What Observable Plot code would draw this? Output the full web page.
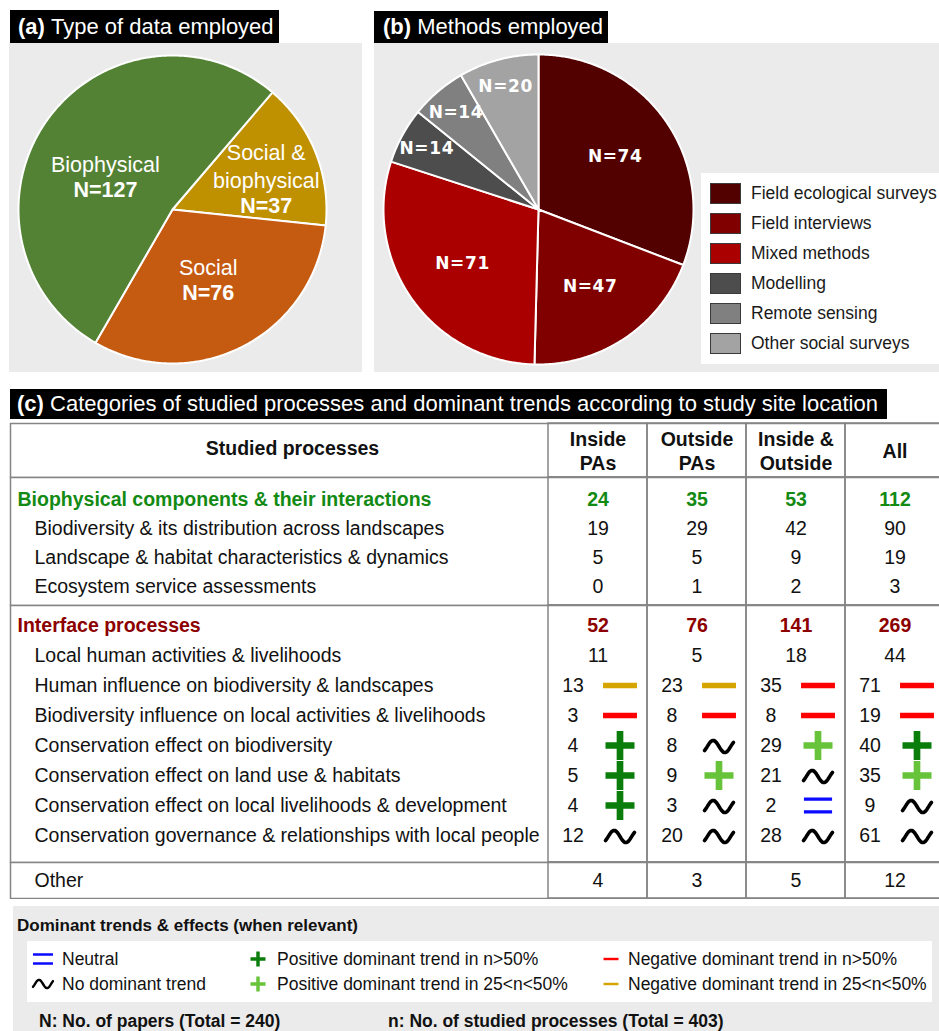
<!DOCTYPE html>
<html>
<head>
<meta charset="utf-8">
<script src="https://cdn.jsdelivr.net/npm/d3@7"></script>
<script src="https://cdn.jsdelivr.net/npm/@observablehq/plot@0.6"></script>
<style>
  html, body { margin: 0; padding: 0; background: #fff; }
  #root { position: relative; width: 939px; height: 1031px; overflow: hidden; font-family: "Liberation Sans", Arial, Helvetica, sans-serif; }
  .title { position: absolute; background: #000; color: #fff; font-size: 22px; white-space: nowrap; box-sizing: border-box; display: flex; align-items: center; }
  .box { position: absolute; }
  .lt { position: absolute; white-space: nowrap; transform: translateY(-50%); line-height: 1; }
</style>
</head>
<body>
<div id="root"></div>
<script>
// ---------------- DATA ----------------
const dataTypes = ["Social & biophysical", "Social", "Biophysical"];
const dataTypeLabels = ["Social &\nbiophysical", "Social", "Biophysical"];
const dataTypeCounts = [37, 76, 127];

const methods = ["Field ecological surveys", "Field interviews", "Mixed methods", "Modelling", "Remote sensing", "Other social surveys"];
const methodCounts = [74, 47, 71, 14, 14, 20];

const columns = ["Inside PAs", "Outside PAs", "Inside & Outside", "All"];
const columnLabels = ["Inside\nPAs", "Outside\nPAs", "Inside &\nOutside", "All"];
const headerLabel = "Studied processes";

const groupNames = ["Biophysical components & their interactions", "Interface processes"];
const groupTotals = [[24, 35, 53, 112], [52, 76, 141, 269]];

const bioProcesses = [
  "Biodiversity & its distribution across landscapes",
  "Landscape & habitat characteristics & dynamics",
  "Ecosystem service assessments"
];
const bioCounts = [[19, 29, 42, 90], [5, 5, 9, 19], [0, 1, 2, 3]];

const interfaceProcesses = [
  "Local human activities & livelihoods",
  "Human influence on biodiversity & landscapes",
  "Biodiversity influence on local activities & livelihoods",
  "Conservation effect on biodiversity",
  "Conservation effect on land use & habitats",
  "Conservation effect on local livelihoods & development",
  "Conservation governance & relationships with local people"
];
const interfaceCounts = [[11, 5, 18, 44], [13, 23, 35, 71], [3, 8, 8, 19], [4, 8, 29, 40], [5, 9, 21, 35], [4, 3, 2, 9], [12, 20, 28, 61]];
const interfaceTrends = [
  [null, null, null, null],
  ["neg25", "neg25", "neg50", "neg50"],
  ["neg50", "neg50", "neg50", "neg50"],
  ["pos50", "none", "pos25", "pos50"],
  ["pos50", "pos25", "none", "pos25"],
  ["pos50", "none", "neutral", "none"],
  ["none", "none", "none", "none"]
];
const otherLabel = "Other";
const otherCounts = [4, 3, 5, 12];

const trendKeys = ["neutral", "none", "pos50", "pos25", "neg50", "neg25"];
const trendLabels = ["Neutral", "No dominant trend", "Positive dominant trend in n>50%", "Positive dominant trend in 25<n<50%", "Negative dominant trend in n>50%", "Negative dominant trend in 25<n<50%"];
const totalPapers = 240, totalProcesses = 403;

// ---------------- STYLES ----------------
const FONT = '"Liberation Sans", Arial, Helvetica, sans-serif';
const GRAY = "#858585";
const PANEL_BG = "#ebebeb";
const dataTypeColors = ["#bf9000", "#c55a11", "#548235"];
const methodColors = ["#520000", "#800000", "#aa0000", "#4d4d4d", "#808080", "#a3a3a3"];
const groupColors = ["#138a13", "#8c0000"];
const trendStyle = {
  neutral: {sym: "equal", color: "#0a0aff", filled: true},
  none: {sym: "tilde", color: "#000000", filled: false},
  pos50: {sym: "plus", color: "#0a7d0a", filled: true},
  pos25: {sym: "plus", color: "#66c33a", filled: true},
  neg50: {sym: "minus", color: "#ff0000", filled: true},
  neg25: {sym: "minus", color: "#d6a400", filled: true}
};

// custom symbols (d3-symbol types)
const rOf = s => Math.sqrt(s / Math.PI);
const SYM = {
  plus: {draw(c, s) { const r = rOf(s), t = r * 0.23;
    c.moveTo(-t, -r); c.lineTo(t, -r); c.lineTo(t, -t); c.lineTo(r, -t); c.lineTo(r, t); c.lineTo(t, t);
    c.lineTo(t, r); c.lineTo(-t, r); c.lineTo(-t, t); c.lineTo(-r, t); c.lineTo(-r, -t); c.lineTo(-t, -t); c.closePath(); }},
  minus: {draw(c, s) { const r = rOf(s), w = r * 1.17, t = r * 0.19; c.rect(-w, -t, 2 * w, 2 * t); }},
  equal: {draw(c, s) { const r = rOf(s), w = r * 0.97, t = r * 0.12, o = r * 0.44;
    c.rect(-w, -o - t, 2 * w, 2 * t); c.rect(-w, o - t, 2 * w, 2 * t); }},
  tilde: {draw(c, s) { const r = rOf(s), a = r * 0.42, t0 = -0.75, t1 = 2 * Math.PI + 0.75, n = 32;
    for (let k = 0; k <= n; k++) { const th = t0 + (t1 - t0) * k / n; const x = -r + 2 * r * k / n, y = -a * Math.sin(th);
      if (k) c.lineTo(x, y); else c.moveTo(x, y); } }}
};

const root = document.getElementById("root");
function place(el, left, top) { el.style.position = "absolute"; el.style.left = left + "px"; el.style.top = top + "px"; root.appendChild(el); return el; }

function title(boldPart, rest, left, top, w, h, pad) {
  const d = document.createElement("div"); d.className = "title";
  d.style.width = w + "px"; d.style.height = h + "px"; d.style.paddingLeft = pad + "px";
  const b = document.createElement("b"); b.textContent = boldPart; d.appendChild(b);
  d.appendChild(document.createTextNode("\u00a0" + rest));
  place(d, left, top);
}

// ---------------- PIES ----------------
function pieSlices(names, counts, startDeg) {
  const s0 = startDeg * Math.PI / 180;
  const arcs = d3.pie().sort(null).startAngle(s0).endAngle(s0 + 2 * Math.PI)(counts);
  const pts = [];
  arcs.forEach((a, i) => {
    const n = Math.max(4, Math.ceil((a.endAngle - a.startAngle) / (Math.PI / 360)));
    pts.push({name: names[i], x: 0, y: 0});
    for (let k = 0; k <= n; k++) {
      const t = a.startAngle + (a.endAngle - a.startAngle) * k / n;
      pts.push({name: names[i], x: Math.sin(t), y: Math.cos(t)});
    }
    pts.push({name: names[i], x: 0, y: 0});
  });
  return {arcs, pts};
}

// Panel (a)
title("(a)", "Type of data employed", 10, 10, 269, 34, 8);
const A = pieSlices(dataTypes, dataTypeCounts, 40.5);
const RA = 154, CXA = 163, CYA = 166, LHA = 27.5;
const labelPlaceA = {"Social & biophysical": [0.64, 3.75], "Social": [0.51, 0], "Biophysical": [0.485, -9.25]};
const labelsA = A.arcs.map((a, i) => {
  const [f, shift] = labelPlaceA[dataTypes[i]];
  const t = (a.startAngle + a.endAngle) / 2 + shift * Math.PI / 180;
  const k = dataTypeLabels[i].split("\n").length;
  const x = f * Math.sin(t), y = f * Math.cos(t);
  return {x, nameY: y + 0.5 * LHA / RA, nY: y - (k / 2) * LHA / RA, name: dataTypeLabels[i], n: "N=" + dataTypeCounts[i]};
});
const pieA = Plot.plot({
  width: 353, height: 329, margin: 0,
  style: {background: PANEL_BG, fontFamily: FONT},
  x: {domain: [-1, 1], range: [CXA - RA, CXA + RA], axis: null},
  y: {domain: [-1, 1], range: [CYA + RA, CYA - RA], axis: null},
  color: {domain: dataTypes, range: dataTypeColors},
  marks: [
    Plot.line(A.pts, {x: "x", y: "y", z: "name", fill: "name", stroke: "white", strokeWidth: 2, strokeLinejoin: "round"}),
    Plot.text(labelsA, {x: "x", y: "nameY", text: "name", fill: "white", fontSize: 21.5, fontFamily: FONT, lineHeight: LHA / 21.5, lineAnchor: "middle"}),
    Plot.text(labelsA, {x: "x", y: "nY", text: "n", fill: "white", fontSize: 21.5, fontFamily: FONT, fontWeight: "bold", lineAnchor: "middle"})
  ]
});
place(pieA, 9, 43);

// Panel (b)
title("(b)", "Methods employed", 374, 11, 234, 32, 9);
const B = pieSlices(methods, methodCounts, 0);
const RB = 155, CXB = 164, CYB = 166;
const labelsB = B.arcs.map((a, i) => {
  const f = methodCounts[i] < 30 ? 0.82 : 0.6;
  const t = (a.startAngle + a.endAngle) / 2;
  return {x: f * Math.sin(t), y: f * Math.cos(t), n: "N=" + methodCounts[i]};
});
const pieB = Plot.plot({
  width: 565, height: 329, margin: 0,
  style: {background: PANEL_BG, fontFamily: FONT},
  x: {domain: [-1, 1], range: [CXB - RB, CXB + RB], axis: null},
  y: {domain: [-1, 1], range: [CYB + RB, CYB - RB], axis: null},
  color: {domain: methods, range: methodColors},
  marks: [
    Plot.line(B.pts, {x: "x", y: "y", z: "name", fill: "name", stroke: "white", strokeWidth: 2, strokeLinejoin: "round"}),
    Plot.text(labelsB, {x: "x", y: "y", text: "n", fill: "white", fontSize: 17, fontFamily: "DejaVu Sans", fontWeight: "bold", lineAnchor: "middle"})
  ]
});
pieB.style.letterSpacing = "0.6px";
place(pieB, 374, 43);

// legend (b)
{
  const box = document.createElement("div"); box.className = "box";
  box.style.width = "238px"; box.style.height = "191px"; box.style.background = "#fff";
  place(box, 701, 173);
  methods.forEach((m, i) => {
    const sw = document.createElement("div");
    Object.assign(sw.style, {position: "absolute", left: "9px", top: (10 + 30 * i) + "px", width: "31px", height: "21px", background: methodColors[i], border: "1px solid #3a3a3a", boxSizing: "border-box"});
    box.appendChild(sw);
    const t = document.createElement("div"); t.className = "lt"; t.textContent = m;
    Object.assign(t.style, {left: "50px", top: (20.5 + 30 * i) + "px", fontSize: "17.5px", color: "#1a1a1a"});
    box.appendChild(t);
  });
}

// ---------------- TABLE (c) ----------------
title("(c)", "Categories of studied processes and dominant trends according to study site location", 10, 389, 877, 30, 7);

const TXT = {fontFamily: FONT, fontSize: 19.5};
const XSCALE = {type: "band", domain: columns, range: [548, 944], padding: 0, axis: null};

function cellsOf(rows) {
  return rows.flatMap(r => columns.map((c, j) => ({key: r.key, col: c, value: r.values[j], trend: r.trends ? r.trends[j] : null, kind: r.kind})));
}

function baseMarks() {
  return [
    Plot.frame({stroke: GRAY, strokeWidth: 1.5, insetRight: -6}),
    Plot.cell(columns, {x: d => d, fill: "none", stroke: GRAY, strokeWidth: 1.5})
  ];
}

function tableSection({rows, top, bottom, rowTop, rowBottom, groupColor}) {
  const svgTop = top - 1, h = bottom - top + 2;
  const cells = cellsOf(rows);
  const groupCells = cells.filter(d => d.kind === "group");
  const plain = cells.filter(d => d.kind !== "group" && !d.trend);
  const trended = cells.filter(d => d.trend);
  const marks = [
    ...baseMarks(),
    Plot.text(rows.filter(r => r.kind === "group"), {y: "key", text: "label", frameAnchor: "left", textAnchor: "start", dx: 7, fontWeight: "bold", fill: groupColor || "#000", ...TXT}),
    Plot.text(rows.filter(r => r.kind === "item"), {y: "key", text: "label", frameAnchor: "left", textAnchor: "start", dx: 24, fill: "#111", ...TXT}),
    Plot.text(groupCells, {x: "col", y: "key", text: "value", fontWeight: "bold", fill: groupColor || "#000", ...TXT}),
    Plot.text(plain, {x: "col", y: "key", text: "value", fill: "#111", ...TXT}),
    Plot.text(trended, {x: "col", y: "key", text: "value", dx: -25, fill: "#111", ...TXT}),
    ...trendKeys.map(k => {
      const st = trendStyle[k];
      return Plot.dot(trended.filter(d => d.trend === k), {
        x: "col", y: "key", symbol: SYM[st.sym], r: 14.5, dx: 22, dy: st.sym === "tilde" ? 1 : 0,
        fill: st.filled ? st.color : "none", stroke: st.filled ? "none" : st.color,
        strokeWidth: st.filled ? 0 : 3.6, strokeLinecap: "round", strokeLinejoin: "round"
      });
    })
  ];
  const svg = Plot.plot({
    width: 939, height: h, marginLeft: 10, marginRight: 0, marginTop: 1, marginBottom: 1,
    style: {background: "none", fontFamily: FONT, color: "#111"},
    x: XSCALE,
    y: {type: "band", domain: rows.map(r => r.key), range: [rowTop - svgTop, rowBottom - svgTop], padding: 0, axis: null},
    marks
  });
  place(svg, 0, svgTop);
}

// header
{
  const top = 423, bottom = 477, svgTop = top - 1, h = bottom - top + 2;
  const svg = Plot.plot({
    width: 939, height: h, marginLeft: 10, marginRight: 0, marginTop: 1, marginBottom: 1,
    style: {background: "none", fontFamily: FONT, color: "#111"},
    x: XSCALE,
    marks: [
      ...baseMarks(),
      Plot.text([headerLabel], {text: d => d, frameAnchor: "left", dx: 282, dy: -2, textAnchor: "middle", fontWeight: "bold", fill: "#111", ...TXT}),
      Plot.text(columns, {x: d => d, text: (d, i) => columnLabels[i], fontWeight: "bold", lineHeight: 1.24, fill: "#111", ...TXT})
    ]
  });
  place(svg, 0, svgTop);
}

const bioRows = [
  {key: "g0", label: groupNames[0], kind: "group", values: groupTotals[0]},
  ...bioProcesses.map((p, i) => ({key: "b" + i, label: p, kind: "item", values: bioCounts[i]}))
];
tableSection({rows: bioRows, top: 477, bottom: 605, rowTop: 483, rowBottom: 602, groupColor: groupColors[0]});

const ifRows = [
  {key: "g1", label: groupNames[1], kind: "group", values: groupTotals[1]},
  ...interfaceProcesses.map((p, i) => ({key: "i" + i, label: p, kind: "item", values: interfaceCounts[i], trends: interfaceTrends[i]}))
];
tableSection({rows: ifRows, top: 605, bottom: 862, rowTop: 606, rowBottom: 853, groupColor: groupColors[1]});

tableSection({rows: [{key: "o", label: otherLabel, kind: "item", values: otherCounts}], top: 862, bottom: 898, rowTop: 863, rowBottom: 897});

// ---------------- LEGEND (bottom) ----------------
{
  const bg = document.createElement("div"); bg.className = "box";
  Object.assign(bg.style, {width: "926px", height: "125px", background: PANEL_BG});
  place(bg, 13, 906);
  const h = document.createElement("div"); h.className = "lt";
  h.textContent = "Dominant trends & effects (when relevant)";
  Object.assign(h.style, {left: "4px", top: "19px", fontSize: "17px", fontWeight: "bold", color: "#111"});
  bg.appendChild(h);

  const wb = document.createElement("div");
  Object.assign(wb.style, {position: "absolute", left: "14px", top: "35px", width: "905px", height: "61px", background: "#fff"});
  bg.appendChild(wb);

  const colIcon = [16, 231, 584], colText = [35, 250, 601], rowY = [18, 43];
  const legR = {plus: 7.5, minus: 6.4, equal: 10.3, tilde: 10};
  trendKeys.forEach((k, i) => {
    const col = Math.floor(i / 2), row = i % 2;
    const st = trendStyle[k];
    const r = legR[st.sym];
    const S = 30;
    const svg = d3.create("svg").attr("width", S).attr("height", S).attr("viewBox", `${-S / 2} ${-S / 2} ${S} ${S}`)
      .style("position", "absolute").style("left", (colIcon[col] - S / 2) + "px").style("top", (rowY[row] - S / 2) + "px");
    svg.append("path").attr("d", d3.symbol(SYM[st.sym], r * r * Math.PI)())
      .attr("fill", st.filled ? st.color : "none").attr("stroke", st.filled ? "none" : st.color)
      .attr("stroke-width", 2.4).attr("stroke-linecap", "round").attr("stroke-linejoin", "round");
    wb.appendChild(svg.node());
    const t = document.createElement("div"); t.className = "lt"; t.textContent = trendLabels[i];
    Object.assign(t.style, {left: colText[col] + "px", top: (rowY[row] + 1) + "px", fontSize: "17.5px", color: "#111"});
    wb.appendChild(t);
  });

  const n1 = document.createElement("div"); n1.className = "lt";
  n1.textContent = `N: No. of papers (Total = ${totalPapers})`;
  Object.assign(n1.style, {left: "26px", top: "116px", fontSize: "17.5px", fontWeight: "bold", color: "#111"});
  bg.appendChild(n1);
  const n2 = document.createElement("div"); n2.className = "lt";
  n2.textContent = `n: No. of studied processes (Total = ${totalProcesses})`;
  Object.assign(n2.style, {left: "375px", top: "116px", fontSize: "17.5px", fontWeight: "bold", color: "#111"});
  bg.appendChild(n2);
}
</script>
</body>
</html>
